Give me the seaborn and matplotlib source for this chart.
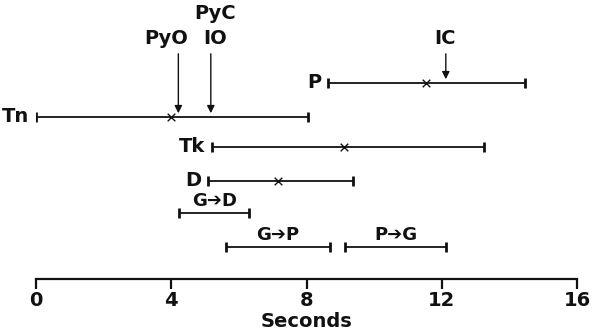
import matplotlib
matplotlib.use("Agg")
import matplotlib.pyplot as plt
import seaborn as sns
import pandas as pd

# ---- data (seconds) ----
labels = ["P", "Tn", "Tk", "D", "G➔D", "G➔P", "P➔G"]
starts = [8.65, 0.0, 5.2, 5.1, 4.23, 5.62, 9.14]
ends = [14.45, 8.05, 13.26, 9.37, 6.31, 8.70, 12.13]
means = [11.53, 3.98, 9.11, 7.17, None, None, None]
event_names = ["PyO", "PyC\nIO", "IC"]
event_times = [4.21, 5.17, 12.12]
event_rows = ["Tn", "Tn", "P"]
ticks = [0, 4, 8, 12, 16]

# ---- layout (vertical row positions, in axis units from top) ----
row_y = {"P": 83, "Tn": 117, "Tk": 147, "D": 181, "G➔D": 213, "G➔P": 246.5, "P➔G": 246.5}
side_label = {"P": True, "Tn": True, "Tk": True, "D": True,
              "G➔D": False, "G➔P": False, "P➔G": False}
event_text_x = {"PyO": 3.85, "PyC\nIO": 5.3, "IC": 12.1}

df = pd.DataFrame({"label": labels, "start": starts, "end": ends, "mean": means})
df["y"] = df["label"].map(row_y)

sns.set_theme(style="white")
plt.rcParams["font.family"] = ["DejaVu Sans"]

fig = plt.figure(figsize=(5.92, 3.32), dpi=100)
ax = fig.add_axes([36 / 592, (332 - 279) / 332, 541 / 592, 279 / 332])
ax.set_xlim(0, 16)
ax.set_ylim(279, 0)

ink = "#111111"
for _, r in df.iterrows():
    ax.hlines(r["y"], r["start"], r["end"], color=ink, lw=1.3)
    for xx in (r["start"], r["end"]):
        ax.vlines(xx, r["y"] - 5, r["y"] + 5, color=ink, lw=2.0)
    if side_label[r["label"]]:
        ax.text(r["start"] - 0.2, r["y"], r["label"], ha="right", va="center",
                fontsize=14, fontweight="bold", color=ink)
    else:
        ax.text((r["start"] + r["end"]) / 2, r["y"] - 3, r["label"], ha="center",
                va="bottom", fontsize=13, fontweight="bold", color=ink)

mdf = df.dropna(subset=["mean"])
sns.scatterplot(data=mdf, x="mean", y="y", marker="x", s=30, color=ink,
                linewidth=1.0, ax=ax, legend=False)

# event arrows
for name, t, row in zip(event_names, event_times, event_rows):
    yr = row_y[row]
    ax.annotate("", xy=(t, yr - 1), xytext=(t, 51),
                arrowprops=dict(arrowstyle="-|>", color=ink, lw=1.0, mutation_scale=11))
    ax.text(event_text_x[name], 48, name, ha="center", va="bottom",
            fontsize=14, fontweight="bold", color=ink, linespacing=1.4)

# axis styling
for s in ["top", "left", "right"]:
    ax.spines[s].set_visible(False)
ax.spines["bottom"].set_color(ink)
ax.spines["bottom"].set_linewidth(1.6)
ax.set_yticks([])
ax.set_xticks(ticks)
ax.set_xticklabels([str(t) for t in ticks], fontsize=14, fontweight="bold", color=ink)
ax.tick_params(axis="x", direction="out", length=7, width=1.6, color=ink,
               bottom=True, pad=2)
ax.set_xlabel("Seconds", fontsize=14, fontweight="bold", color=ink, labelpad=1)
ax.set_ylabel("")
ax.patch.set_alpha(0)

fig.savefig("out.png", dpi=100)
